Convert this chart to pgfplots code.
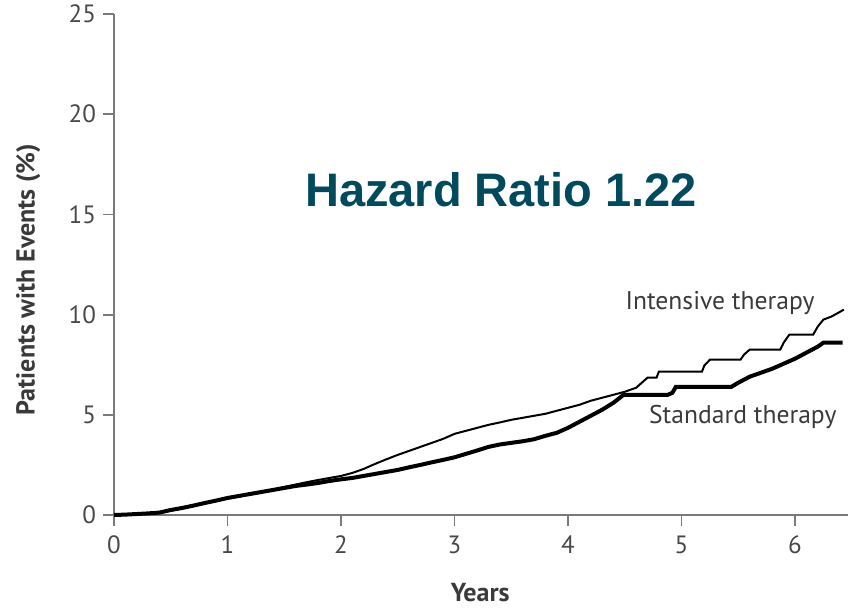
\documentclass[border=0pt]{standalone}
\usepackage{fontspec}
\setmainfont{PT Sans}
\newfontfamily\hrfont{Liberation Sans}
\usepackage{pgfplots}
\pgfplotsset{compat=1.18}
\definecolor{axgray}{HTML}{7A7A7A}
\definecolor{txtgray}{HTML}{3A3A3A}
\definecolor{tickgray}{HTML}{484848}
\definecolor{hrteal}{HTML}{004A5E}
\begin{document}
\begin{tikzpicture}
\useasboundingbox (-57pt,-46pt) rectangle (370.5pt,257.5pt);
\begin{axis}[
  at={(0,0)}, anchor=south west,
  scale only axis, width=367pt, height=250.5pt,
  xmin=0, xmax=6.467, ymin=0, ymax=25,
  axis x line*=bottom, axis y line*=left,
  axis line style={axgray, line width=1pt},
  xtick={0,1,2,3,4,5,6}, ytick={0,5,10,15,20,25},
  tick align=outside, major tick length=5.5pt,
  tick style={axgray, line width=0.9pt},
  ticklabel style={font=\fontsize{12.5}{14}\selectfont, text=tickgray},
  xticklabel style={yshift=-1.5pt},
  /pgf/number format/assume math mode=true,
  xlabel={Years}, ylabel={Patients with Events (\%)},
  label style={font=\bfseries\fontsize{13}{15}\selectfont, text=txtgray},
  xlabel style={at={(axis description cs:0.499,-0.154)}, anchor=center},
  ylabel style={at={(axis description cs:-0.117,0.47)}, anchor=center},
  clip=false,
]
% Intensive therapy (thin)
\addplot[black, line width=1pt] coordinates {
(0,0) (0.1,0.02) (0.2,0.05) (0.3,0.08) (0.4,0.12) (0.5,0.22) (0.6,0.33) (0.7,0.45)
(0.8,0.58) (0.9,0.7) (1.0,0.82) (1.1,0.92) (1.2,1.03) (1.3,1.15) (1.4,1.27) (1.5,1.4)
(1.6,1.52) (1.7,1.64) (1.8,1.75) (1.9,1.85) (2.0,1.95) (2.1,2.1) (2.2,2.3) (2.3,2.55)
(2.4,2.78) (2.5,3.0) (2.6,3.2) (2.7,3.4) (2.8,3.6) (2.9,3.8) (3.0,4.05) (3.1,4.2)
(3.2,4.35) (3.3,4.5) (3.4,4.62) (3.5,4.75) (3.6,4.85) (3.7,4.95) (3.8,5.05) (3.9,5.2)
(4.0,5.35) (4.1,5.5) (4.2,5.7) (4.3,5.85) (4.4,6.0) (4.5,6.15) (4.6,6.35) (4.65,6.6)
(4.7,6.85) (4.78,6.85) (4.8,7.15) (5.18,7.15) (5.2,7.45) (5.25,7.75) (5.52,7.75)
(5.55,8.0) (5.6,8.25) (5.87,8.25) (5.9,8.6) (5.95,9.0) (6.16,9.0) (6.2,9.4)
(6.25,9.75) (6.32,9.9) (6.4,10.15) (6.43,10.25)
};
% Standard therapy (thick)
\addplot[black, line width=2pt] coordinates {
(0,0) (0.1,0.02) (0.2,0.05) (0.3,0.08) (0.4,0.12) (0.5,0.25) (0.6,0.35) (0.7,0.47)
(0.8,0.6) (0.9,0.72) (1.0,0.85) (1.1,0.95) (1.2,1.05) (1.3,1.15) (1.4,1.25) (1.5,1.35)
(1.6,1.45) (1.7,1.52) (1.8,1.6) (1.9,1.7) (2.0,1.78) (2.1,1.85) (2.2,1.95) (2.3,2.05)
(2.4,2.15) (2.5,2.25) (2.6,2.38) (2.7,2.5) (2.8,2.63) (2.9,2.75) (3.0,2.88) (3.1,3.05)
(3.2,3.22) (3.3,3.4) (3.4,3.52) (3.5,3.6) (3.6,3.68) (3.7,3.78) (3.8,3.95) (3.9,4.1)
(4.0,4.35) (4.1,4.65) (4.2,4.95) (4.3,5.25) (4.4,5.6) (4.49,6.0) (4.88,6.0) (4.92,6.1)
(4.95,6.4) (5.44,6.4) (5.5,6.6) (5.6,6.9) (5.7,7.1) (5.8,7.3) (5.9,7.55) (6.0,7.8)
(6.1,8.1) (6.2,8.4) (6.25,8.6) (6.42,8.6)
};
\node[font=\fontsize{12.8}{15}\selectfont, text=txtgray] at (axis cs:5.34,10.6) {Intensive therapy};
\node[font=\fontsize{12.8}{15}\selectfont, text=txtgray] at (axis cs:5.54,4.9) {Standard therapy};
\node[font=\hrfont\bfseries\fontsize{23.5}{28}\selectfont, text=hrteal] at (axis cs:3.41,16.25) {Hazard Ratio 1.22};
\end{axis}
\end{tikzpicture}
\end{document}
